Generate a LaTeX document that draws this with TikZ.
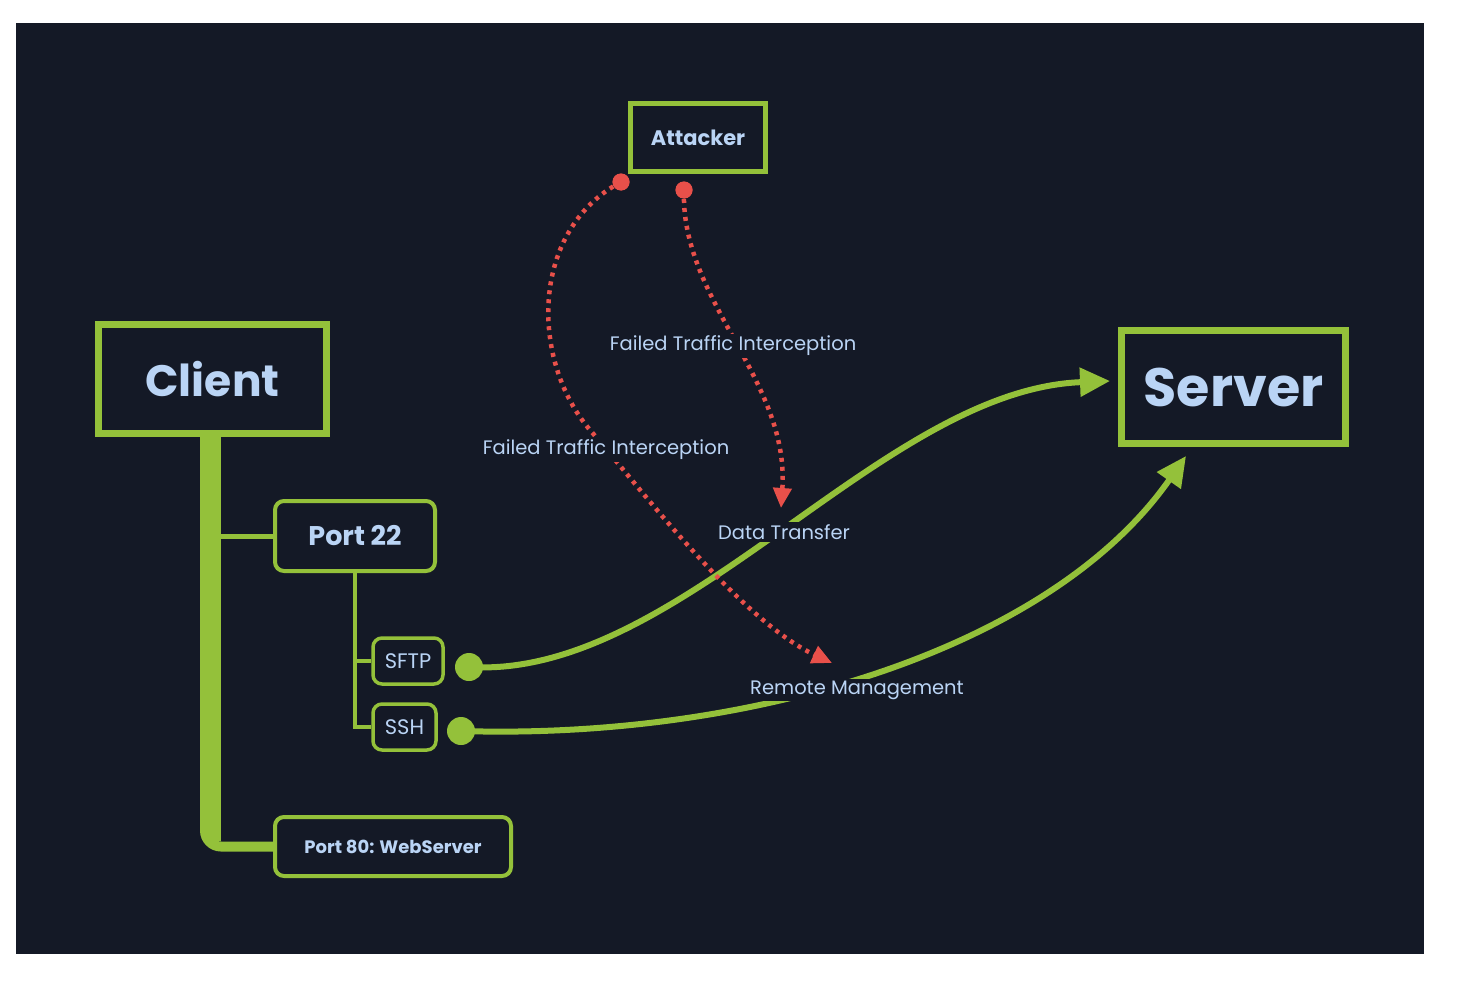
\documentclass[tikz,border=0pt]{standalone}
\usepackage{fontspec}
\setmainfont{Poppins}
\usetikzlibrary{arrows.meta}
\definecolor{bgdark}{RGB}{20,25,38}
\definecolor{mapgreen}{RGB}{148,193,58}
\definecolor{labelblue}{RGB}{186,212,245}
\definecolor{attackred}{RGB}{232,80,74}
\begin{document}
\begin{tikzpicture}[x=1pt,y=-1pt,
  bigbox/.style={draw = mapgreen, line width = 7pt, fill = bgdark, text = labelblue, inner sep = 0pt},
  portbox/.style={draw = mapgreen, line width = 4pt, rounded corners = 9pt, fill = bgdark, text = labelblue, inner sep = 0pt},
  edgelabel/.style={fill = bgdark, text = labelblue, inner sep = 2pt, font = \fontsize{19.5}{22}\selectfont},
  flow/.style={mapgreen, line width = 6pt, -{Triangle[length = 30pt, width = 28pt]}},
  sniff/.style={attackred, line width = 4.5pt, dash pattern = on 4pt off 5pt, -{Triangle[length = 20pt, width = 18pt]}},
  greendot/.style={circle, fill = mapgreen, minimum size = 28pt, inner sep = 0pt},
  reddot/.style={circle, fill = attackred, minimum size = 17pt, inner sep = 0pt}]
\useasboundingbox (0,0) rectangle (1460,998);
\fill [white] (0,0) rectangle (1460,998);
\fill [bgdark] (16,23) rectangle (1424,954);

% boxes
\node [bigbox, minimum width = 228pt, minimum height = 109pt, font = \bfseries\fontsize{44}{48}\selectfont] (client) at (212.5,379) {Client};
\node [bigbox, minimum width = 224pt, minimum height = 113pt, font = \bfseries\fontsize{54}{58}\selectfont] (server) at (1233.5,387) {Server};
\node [bigbox, line width = 5pt, minimum width = 135pt, minimum height = 68pt, font = \bfseries\fontsize{21}{24}\selectfont] (attacker) at (698,137.5) {Attacker};

\node [portbox, minimum width = 160pt, minimum height = 70pt, font = \bfseries\fontsize{27}{30}\selectfont] (port22) at (355,536) {Port 22};
\node [portbox, line width = 3.5pt, minimum width = 70pt, minimum height = 46pt, font = \fontsize{21}{24}\selectfont] (sftp) at (408,661) {SFTP};
\node [portbox, line width = 3.5pt, minimum width = 63pt, minimum height = 46pt, font = \fontsize{21}{24}\selectfont] (ssh) at (404.5,727) {SSH};
\node [portbox, minimum width = 236pt, minimum height = 59pt, font = \bfseries\fontsize{18}{21}\selectfont] (port80) at (393,846.5) {Port 80: WebServer};

% tree
\draw [mapgreen, line width = 21pt] ([xshift = -2pt]client.south) -- ++(0,385);
\fill [mapgreen] ([xshift = -7.5pt]client.south) ++(0,373) rectangle ++(16,31);
\draw [mapgreen, line width = 10pt, rounded corners = 16pt] ([xshift = -7.5pt]client.south) ++(0,340) |- (port80.west);
\draw [mapgreen, line width = 5pt] ([xshift = -5pt]client.south |- port22.west) -- (port22.west);
\draw [mapgreen, line width = 3.5pt] (port22.south) |- (ssh.west);
\draw [mapgreen, line width = 3.5pt] (port22.south |- sftp.west) -- (sftp.west);

% links
\node [greendot] (sftpdot) at (469,667) {};
\node [greendot] (sshdot) at (461,731) {};
\draw [flow] (sftpdot.center) .. controls (680,680) and (880,390) .. ([xshift = -8pt, yshift = 6pt]server.west);
\draw [flow] (sshdot.center) .. controls (750,740) and (1050,650) .. ([xshift = -47.5pt, yshift = -9pt]server.south);

\node [reddot] (tapA) at (621,182) {};
\node [reddot] (tapB) at (684,190) {};
\draw [sniff] (tapA.center) .. controls (530,230) and (530,360) .. (590,430) .. controls (640,488) and (740,620) .. (832,663);
\draw [sniff] (tapB.center) .. controls (680,300) and (790,380) .. (781,508);
\node [reddot] at (tapA) {};
\node [reddot] at (tapB) {};

% labels
\node [edgelabel] (failB) at (733,346) {Failed Traffic Interception};
\node [edgelabel] (failA) at (606,450) {Failed Traffic Interception};
\node [edgelabel] (transfer) at (784,532) {Data Transfer};
\node [edgelabel] (remote) at (857,690) {Remote Management};
\end{tikzpicture}
\end{document}
